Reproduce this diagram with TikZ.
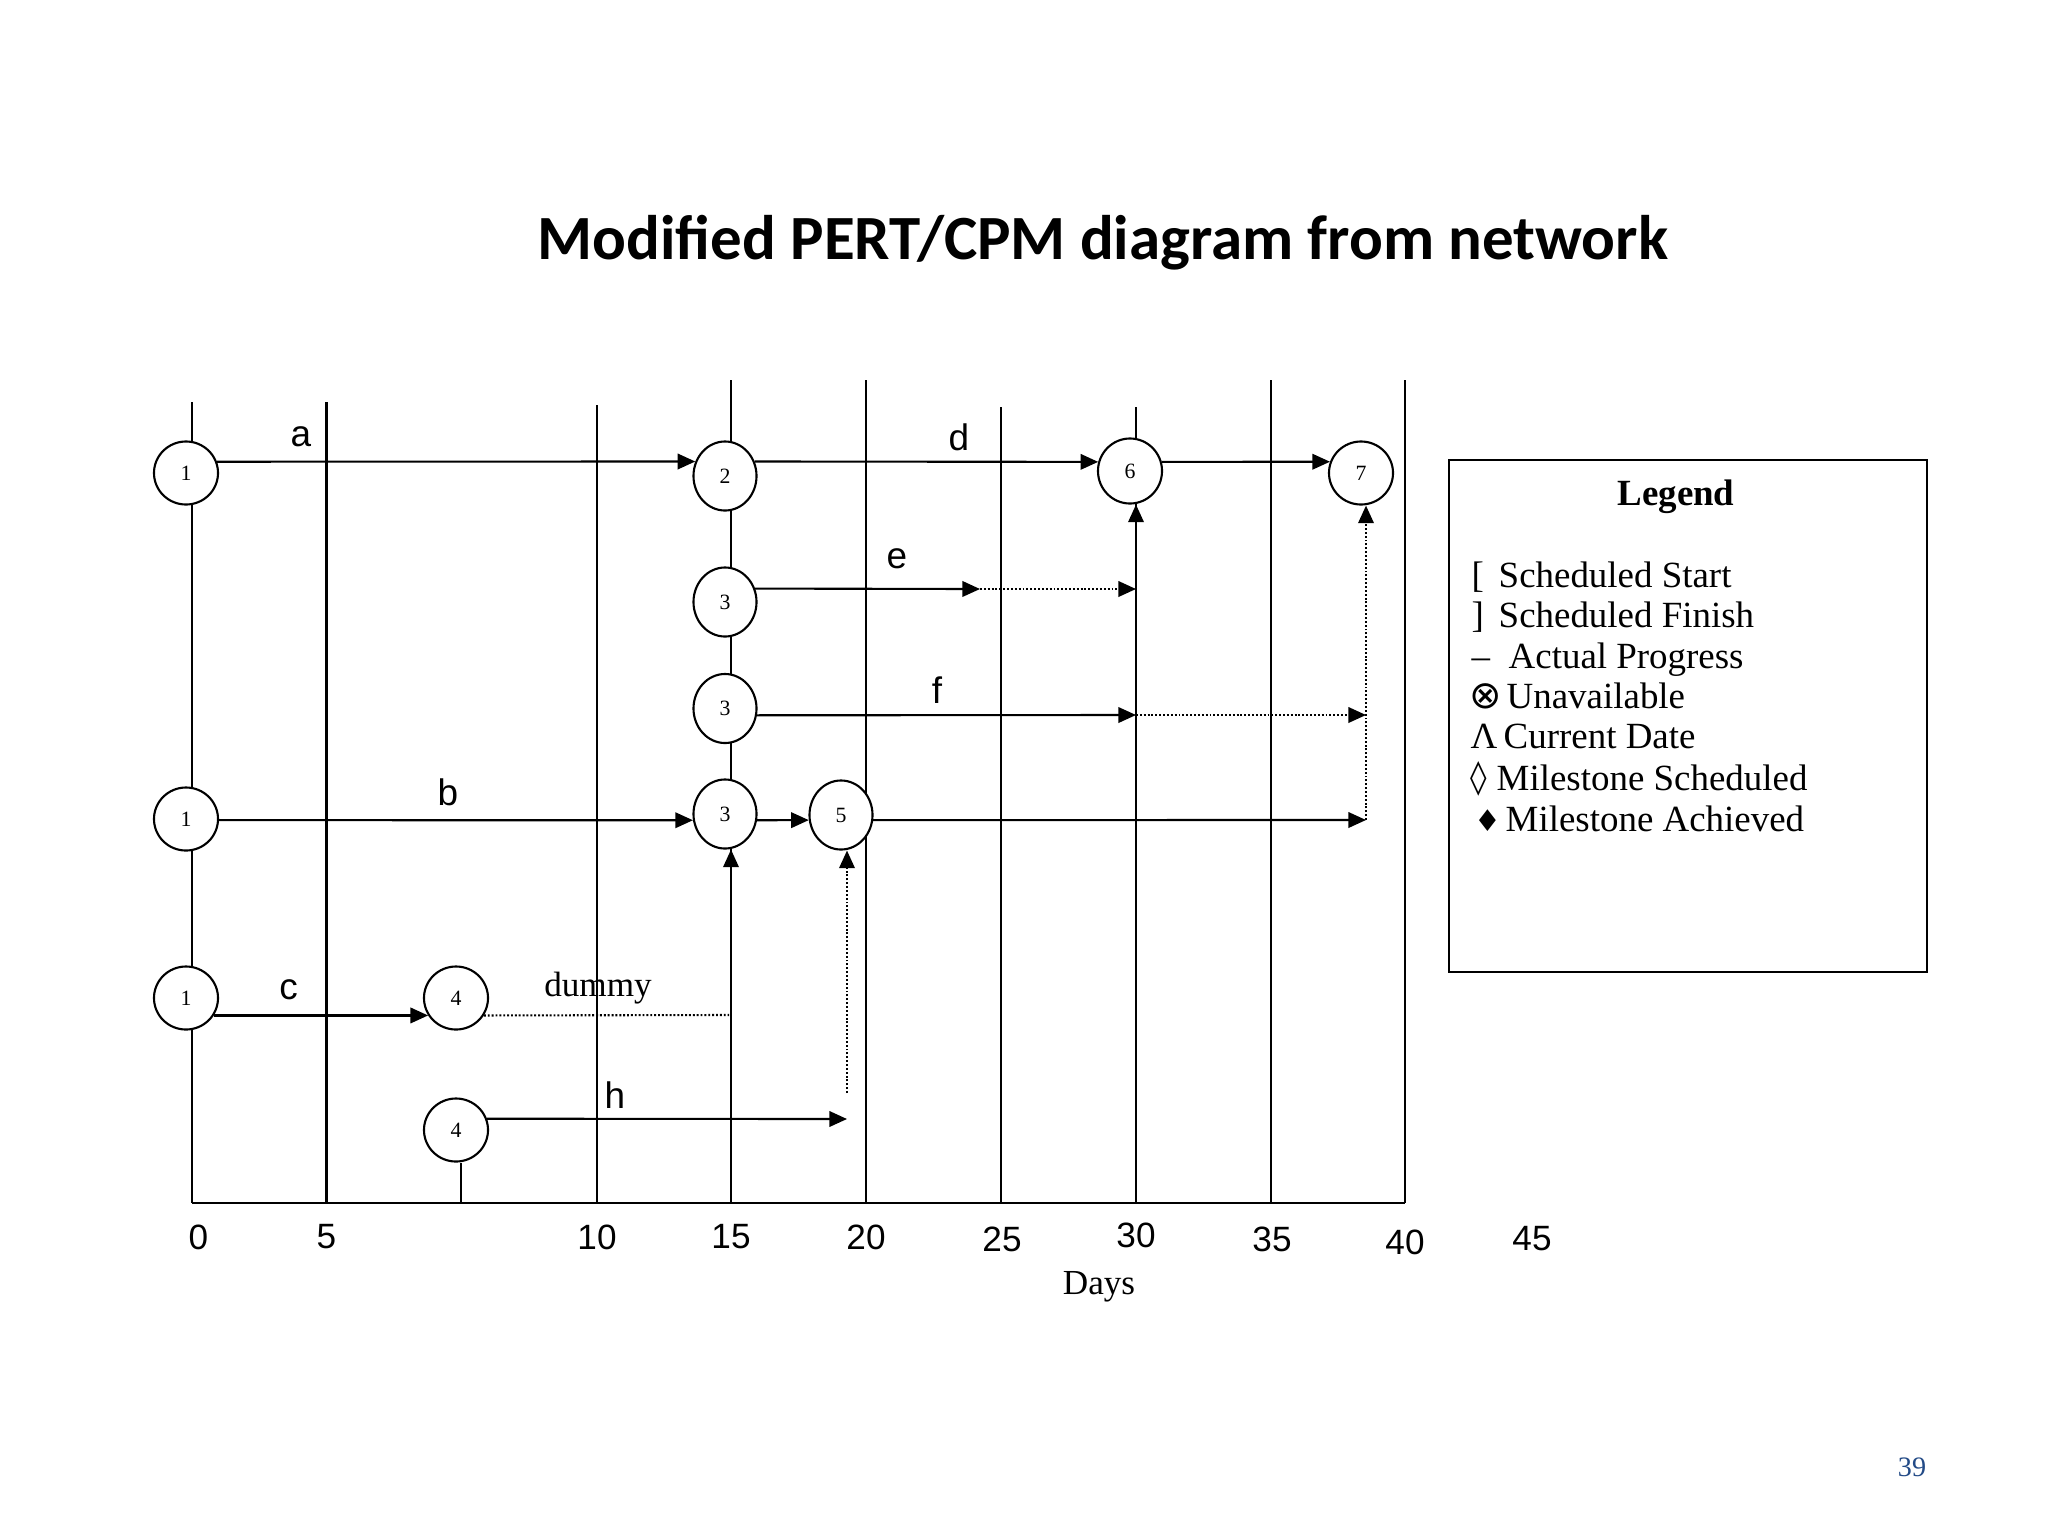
\documentclass[tikz,border=0pt]{standalone}
\usepackage{fontspec}
\usetikzlibrary{arrows.meta,shapes.geometric}
\newfontfamily\titlef{Carlito}
\newfontfamily\sansf{Liberation Sans}
\newfontfamily\serf{Liberation Serif}
\newfontfamily\symf{DejaVu Sans}
\definecolor{pgnum}{RGB}{35,75,135}
\tikzset{
  ln/.style={line width=0.6pt, black},
  arr/.style={ln, -{Triangle[length=5pt,width=4.4pt]}},
  dotl/.style={ln, dash pattern=on 0.55pt off 0.55pt},
  darr/.style={dotl, -{Triangle[length=5pt,width=4.4pt]}},
  ev/.style={ellipse, draw, fill=white, line width=0.6pt, inner sep=0pt,
    minimum width=6.4mm, minimum height=6.3mm, font=\serf\fontsize{6.2}{7}\selectfont},
  evt/.style={ev, minimum width=6.3mm, minimum height=6.9mm},
  lab/.style={font=\sansf\fontsize{10.5}{12}\selectfont, inner sep=0pt},
  axl/.style={font=\sansf\fontsize{10}{12}\selectfont, inner sep=0pt},
  lg/.style={font=\serf\fontsize{10.5}{12}\selectfont, inner sep=0pt, anchor=base west},
  lgs/.style={font=\symf\fontsize{8.5}{12}\selectfont, inner sep=0pt, anchor=base west},
}
\begin{document}
\begin{tikzpicture}[x=0.01cm,y=-0.01cm]
\useasboundingbox (0,0) rectangle (2048,1536);
\fill[white] (0,0) rectangle (2048,1536);

% title
\node[font=\titlef\bfseries\fontsize{17.9}{21}\selectfont, inner sep=0pt] (title) at (1103,243) {Modified PERT/CPM diagram from network};

% grid coordinates
\coordinate (t0) at (192,402);   \coordinate (b0) at (192,1203);
\coordinate (t5) at (326.5,402); \coordinate (b5) at (326.5,1203);
\coordinate (t10) at (597,405);  \coordinate (b10) at (597,1203);
\coordinate (t15) at (731,380);  \coordinate (b15) at (731,1203);
\coordinate (t20) at (866,380);  \coordinate (b20) at (866,1203);
\coordinate (t25) at (1001,407); \coordinate (b25) at (1001,1203);
\coordinate (t30) at (1136,407); \coordinate (b30) at (1136,1203);
\coordinate (t35) at (1271,380); \coordinate (b35) at (1271,1203);
\coordinate (t40) at (1405,380); \coordinate (b40) at (1405,1203);
\foreach \d in {0,5,10,15,20,25,30,35,40} \draw[ln] (t\d) -- (b\d);
\draw[ln] (b0) -- (b40);

% axis labels
\node[axl] (x0) at (198.5,1237) {0};
\node[axl] (x5) at (326.5,1237) {5};
\node[axl] (x10) at (597,1237) {10};
\node[axl] (x15) at (731,1237) {15};
\node[axl] (x20) at (866,1237) {20};
\node[axl] (x25) at (1002,1239.5) {25};
\node[axl] (x30) at (1136,1235) {30};
\node[axl] (x35) at (1272,1239.5) {35};
\node[axl] (x40) at (1405,1242) {40};
\node[axl] (x45) at (1532,1239) {45};
\node[font=\serf\fontsize{10}{12}\selectfont, inner sep=0pt] (days) at (1099,1287) {Days};

% nodes
\node[ev] (n1a) at (186,473) {1};
\node[evt] (n2) at (725,476) {2};
\node[evt] (n3a) at (725,602) {3};
\node[evt] (n3b) at (725,708.5) {3};
\node[evt] (n3c) at (725,814) {3};
\node[evt] (n5) at (841,815) {5};
\node[ev, minimum height=6.5mm] (n6) at (1130,471) {6};
\node[ev] (n7) at (1361,473) {7};
\node[ev] (n1b) at (186,819) {1};
\node[ev] (n1c) at (186,998) {1};
\node[ev] (n4a) at (456,998) {4};
\node[ev] (n4b) at (456,1130) {4};

% free-end coordinates
\coordinate (eEnd) at (980,589);
\coordinate (eDot) at (1136,589);
\coordinate (fEnd) at (1136,715);
\coordinate (fDot) at (1366,715);
\coordinate (gEnd) at (1366,820);
\coordinate (dEnd) at (729,1015);
\coordinate (hEnd) at (847,1119);
\coordinate (hUp) at (847,1093);
\coordinate (b4) at (461,1203);

% connectors
\draw[arr] (n1a.20) -- (n2.154);
\draw[arr] (n2.26) -- (n6.164);
\draw[arr] (n6.16) -- (n7.160);
\draw[arr] (n3a.24) -- (eEnd);
\draw[darr] (eEnd) -- (eDot);
\draw[arr] (n3b.-12) -- (fEnd);
\draw[darr] (fEnd) -- (fDot);
\draw[arr] (n1b.-2) -- (n3c.191);
\draw[arr] (n3c.-11) -- (n5.189);
\draw[arr] (n5.-9) -- (gEnd);
\draw[darr] (gEnd) -- (n7.south -| gEnd);
\draw[arr] (b15) -- (n3c.south -| b15);
\draw[arr] (b30) -- (n6.south -| b30);
\draw[arr] (n1c.-32) -- (n4a.212);
\draw[dotl] (n4a.-32) -- (dEnd);
\draw[arr] (n4b.20) -- (hEnd);
\draw[darr] (hUp) -- (n5.south -| hUp);
\draw[ln] (b4) -- (b4 |- n4b.south);

% labels
\node[lab] (la) at (301,437) {a};
\node[lab] (ld) at (959,437) {d};
\node[lab] (le) at (897,559) {e};
\node[lab] (lf) at (937,690) {f};
\node[lab] (lb) at (448,792) {b};
\node[lab] (lc) at (288.5,990) {c};
\node[lab] (lh) at (615,1095) {h};
\node[font=\serf\fontsize{10}{12}\selectfont, inner sep=0pt] (ldum) at (598,988) {dummy};

% legend
\draw[line width=0.7pt] (1449,460) rectangle (1927,972);
\node[font=\serf\bfseries\fontsize{10.5}{12}\selectfont, inner sep=0pt, anchor=base] (lgT) at (1676,505) {Legend};
\node[lg] (s1) at (1471,587) {[};   \node[lg] (t1) at (1498,587) {Scheduled Start};
\node[lg] (s2) at (1471,627) {]};   \node[lg] (t2) at (1498,627) {Scheduled Finish};
\node[lg] (s3) at (1471,668) {–};   \node[lg] (t3) at (1508,668) {Actual Progress};
\node[lgs, font=\symf\fontsize{11}{12}\selectfont] (s4) at (1469,708) {⊗};  \node[lg] (t4) at (1506,708) {Unavailable};
\node[lg] (s5) at (1470,748) {Λ};   \node[lg] (t5) at (1503,748) {Current Date};
\node[lgs, font=\symf\fontsize{9.5}{12}\selectfont] (s6) at (1470,788) {◊};  \node[lg] (t6) at (1496,790) {Milestone Scheduled};
\node[lgs] (s7) at (1474,831) {♦};  \node[lg] (t7) at (1505,831) {Milestone Achieved};

% page number
\node[font=\serf\fontsize{8}{10}\selectfont, text=pgnum, inner sep=0pt] (pg) at (1912,1467) {39};
\end{tikzpicture}
\end{document}
